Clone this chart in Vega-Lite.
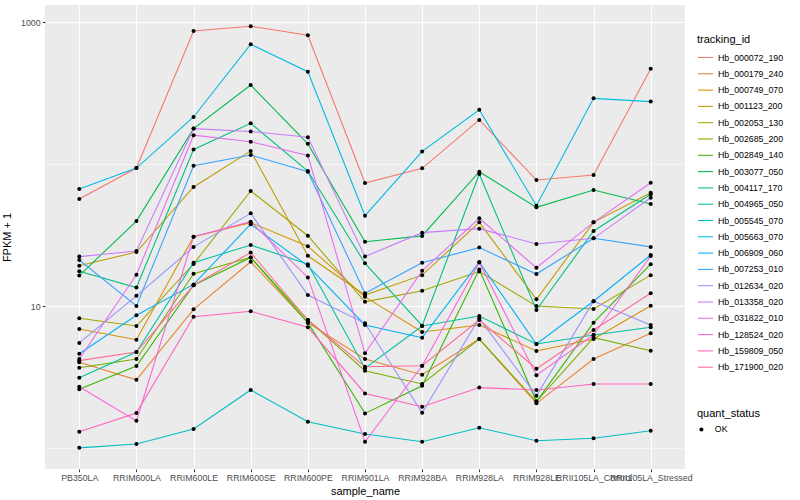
{
  "$schema": "https://vega.github.io/schema/vega-lite/v6.json",
  "width": 640,
  "height": 464,
  "autosize": {"type": "none"},
  "padding": {"left": 45, "top": 5, "right": 115, "bottom": 31},
  "background": "white",
  "config": {
    "font": "Liberation Sans",
    "view": {"fill": "#EBEBEB", "stroke": null},
    "axis": {
      "domain": false,
      "tickColor": "#333333",
      "tickSize": 2.7,
      "tickWidth": 1.07,
      "labelColor": "#4D4D4D",
      "labelFontSize": 8.8,
      "labelFont": "Liberation Sans",
      "titleFont": "Liberation Sans",
      "titleFontSize": 11,
      "titleFontWeight": "normal",
      "titleColor": "black",
      "gridColor": "white",
      "gridWidth": 1.07,
      "labelPadding": 2.2
    },
    "legend": {
      "titleFont": "Liberation Sans",
      "labelFont": "Liberation Sans",
      "titleFontSize": 11,
      "titleFontWeight": "normal",
      "titleColor": "black",
      "labelFontSize": 8.8,
      "labelColor": "black"
    }
  },
  "data": {
    "values": [
      {"tracking_id":"Hb_000072_190","sample_name":"PB350LA","fpkm":56.8,"quant_status":"OK"},
      {"tracking_id":"Hb_000072_190","sample_name":"RRIM600LA","fpkm":93.9,"quant_status":"OK"},
      {"tracking_id":"Hb_000072_190","sample_name":"RRIM600LE","fpkm":868,"quant_status":"OK"},
      {"tracking_id":"Hb_000072_190","sample_name":"RRIM600SE","fpkm":937,"quant_status":"OK"},
      {"tracking_id":"Hb_000072_190","sample_name":"RRIM600PE","fpkm":810,"quant_status":"OK"},
      {"tracking_id":"Hb_000072_190","sample_name":"RRIM901LA","fpkm":73.6,"quant_status":"OK"},
      {"tracking_id":"Hb_000072_190","sample_name":"RRIM928BA","fpkm":93.5,"quant_status":"OK"},
      {"tracking_id":"Hb_000072_190","sample_name":"RRIM928LA","fpkm":205,"quant_status":"OK"},
      {"tracking_id":"Hb_000072_190","sample_name":"RRIM928LE","fpkm":77.3,"quant_status":"OK"},
      {"tracking_id":"Hb_000072_190","sample_name":"RRII105LA_Control","fpkm":83.8,"quant_status":"OK"},
      {"tracking_id":"Hb_000072_190","sample_name":"RRII105LA_Stressed","fpkm":471,"quant_status":"OK"},
      {"tracking_id":"Hb_000179_240","sample_name":"PB350LA","fpkm":4.01,"quant_status":"OK"},
      {"tracking_id":"Hb_000179_240","sample_name":"RRIM600LA","fpkm":3.02,"quant_status":"OK"},
      {"tracking_id":"Hb_000179_240","sample_name":"RRIM600LE","fpkm":9.48,"quant_status":"OK"},
      {"tracking_id":"Hb_000179_240","sample_name":"RRIM600SE","fpkm":20.5,"quant_status":"OK"},
      {"tracking_id":"Hb_000179_240","sample_name":"RRIM600PE","fpkm":7.63,"quant_status":"OK"},
      {"tracking_id":"Hb_000179_240","sample_name":"RRIM901LA","fpkm":4.23,"quant_status":"OK"},
      {"tracking_id":"Hb_000179_240","sample_name":"RRIM928BA","fpkm":3.28,"quant_status":"OK"},
      {"tracking_id":"Hb_000179_240","sample_name":"RRIM928LA","fpkm":5.85,"quant_status":"OK"},
      {"tracking_id":"Hb_000179_240","sample_name":"RRIM928LE","fpkm":2.06,"quant_status":"OK"},
      {"tracking_id":"Hb_000179_240","sample_name":"RRII105LA_Control","fpkm":4.23,"quant_status":"OK"},
      {"tracking_id":"Hb_000179_240","sample_name":"RRII105LA_Stressed","fpkm":6.42,"quant_status":"OK"},
      {"tracking_id":"Hb_000749_070","sample_name":"PB350LA","fpkm":6.88,"quant_status":"OK"},
      {"tracking_id":"Hb_000749_070","sample_name":"RRIM600LA","fpkm":5.79,"quant_status":"OK"},
      {"tracking_id":"Hb_000749_070","sample_name":"RRIM600LE","fpkm":30.8,"quant_status":"OK"},
      {"tracking_id":"Hb_000749_070","sample_name":"RRIM600SE","fpkm":38.7,"quant_status":"OK"},
      {"tracking_id":"Hb_000749_070","sample_name":"RRIM600PE","fpkm":26.4,"quant_status":"OK"},
      {"tracking_id":"Hb_000749_070","sample_name":"RRIM901LA","fpkm":11.6,"quant_status":"OK"},
      {"tracking_id":"Hb_000749_070","sample_name":"RRIM928BA","fpkm":6.56,"quant_status":"OK"},
      {"tracking_id":"Hb_000749_070","sample_name":"RRIM928LA","fpkm":7.35,"quant_status":"OK"},
      {"tracking_id":"Hb_000749_070","sample_name":"RRIM928LE","fpkm":4.82,"quant_status":"OK"},
      {"tracking_id":"Hb_000749_070","sample_name":"RRII105LA_Control","fpkm":5.85,"quant_status":"OK"},
      {"tracking_id":"Hb_000749_070","sample_name":"RRII105LA_Stressed","fpkm":10.05,"quant_status":"OK"},
      {"tracking_id":"Hb_001123_200","sample_name":"PB350LA","fpkm":19.2,"quant_status":"OK"},
      {"tracking_id":"Hb_001123_200","sample_name":"RRIM600LA","fpkm":24.0,"quant_status":"OK"},
      {"tracking_id":"Hb_001123_200","sample_name":"RRIM600LE","fpkm":69.0,"quant_status":"OK"},
      {"tracking_id":"Hb_001123_200","sample_name":"RRIM600SE","fpkm":124,"quant_status":"OK"},
      {"tracking_id":"Hb_001123_200","sample_name":"RRIM600PE","fpkm":22.6,"quant_status":"OK"},
      {"tracking_id":"Hb_001123_200","sample_name":"RRIM901LA","fpkm":11.95,"quant_status":"OK"},
      {"tracking_id":"Hb_001123_200","sample_name":"RRIM928BA","fpkm":16.5,"quant_status":"OK"},
      {"tracking_id":"Hb_001123_200","sample_name":"RRIM928LA","fpkm":38.9,"quant_status":"OK"},
      {"tracking_id":"Hb_001123_200","sample_name":"RRIM928LE","fpkm":11.15,"quant_status":"OK"},
      {"tracking_id":"Hb_001123_200","sample_name":"RRII105LA_Control","fpkm":38.9,"quant_status":"OK"},
      {"tracking_id":"Hb_001123_200","sample_name":"RRII105LA_Stressed","fpkm":62.9,"quant_status":"OK"},
      {"tracking_id":"Hb_002053_130","sample_name":"PB350LA","fpkm":8.19,"quant_status":"OK"},
      {"tracking_id":"Hb_002053_130","sample_name":"RRIM600LA","fpkm":7.23,"quant_status":"OK"},
      {"tracking_id":"Hb_002053_130","sample_name":"RRIM600LE","fpkm":19.8,"quant_status":"OK"},
      {"tracking_id":"Hb_002053_130","sample_name":"RRIM600SE","fpkm":64.7,"quant_status":"OK"},
      {"tracking_id":"Hb_002053_130","sample_name":"RRIM600PE","fpkm":31.3,"quant_status":"OK"},
      {"tracking_id":"Hb_002053_130","sample_name":"RRIM901LA","fpkm":10.7,"quant_status":"OK"},
      {"tracking_id":"Hb_002053_130","sample_name":"RRIM928BA","fpkm":12.8,"quant_status":"OK"},
      {"tracking_id":"Hb_002053_130","sample_name":"RRIM928LA","fpkm":17.5,"quant_status":"OK"},
      {"tracking_id":"Hb_002053_130","sample_name":"RRIM928LE","fpkm":10.0,"quant_status":"OK"},
      {"tracking_id":"Hb_002053_130","sample_name":"RRII105LA_Control","fpkm":9.53,"quant_status":"OK"},
      {"tracking_id":"Hb_002053_130","sample_name":"RRII105LA_Stressed","fpkm":16.5,"quant_status":"OK"},
      {"tracking_id":"Hb_002685_200","sample_name":"PB350LA","fpkm":3.67,"quant_status":"OK"},
      {"tracking_id":"Hb_002685_200","sample_name":"RRIM600LA","fpkm":4.23,"quant_status":"OK"},
      {"tracking_id":"Hb_002685_200","sample_name":"RRIM600LE","fpkm":16.9,"quant_status":"OK"},
      {"tracking_id":"Hb_002685_200","sample_name":"RRIM600SE","fpkm":22.0,"quant_status":"OK"},
      {"tracking_id":"Hb_002685_200","sample_name":"RRIM600PE","fpkm":7.97,"quant_status":"OK"},
      {"tracking_id":"Hb_002685_200","sample_name":"RRIM901LA","fpkm":3.50,"quant_status":"OK"},
      {"tracking_id":"Hb_002685_200","sample_name":"RRIM928BA","fpkm":2.82,"quant_status":"OK"},
      {"tracking_id":"Hb_002685_200","sample_name":"RRIM928LA","fpkm":5.85,"quant_status":"OK"},
      {"tracking_id":"Hb_002685_200","sample_name":"RRIM928LE","fpkm":2.12,"quant_status":"OK"},
      {"tracking_id":"Hb_002685_200","sample_name":"RRII105LA_Control","fpkm":5.98,"quant_status":"OK"},
      {"tracking_id":"Hb_002685_200","sample_name":"RRII105LA_Stressed","fpkm":4.84,"quant_status":"OK"},
      {"tracking_id":"Hb_002849_140","sample_name":"PB350LA","fpkm":2.59,"quant_status":"OK"},
      {"tracking_id":"Hb_002849_140","sample_name":"RRIM600LA","fpkm":3.78,"quant_status":"OK"},
      {"tracking_id":"Hb_002849_140","sample_name":"RRIM600LE","fpkm":14.0,"quant_status":"OK"},
      {"tracking_id":"Hb_002849_140","sample_name":"RRIM600SE","fpkm":22.0,"quant_status":"OK"},
      {"tracking_id":"Hb_002849_140","sample_name":"RRIM600PE","fpkm":7.63,"quant_status":"OK"},
      {"tracking_id":"Hb_002849_140","sample_name":"RRIM901LA","fpkm":1.75,"quant_status":"OK"},
      {"tracking_id":"Hb_002849_140","sample_name":"RRIM928BA","fpkm":2.74,"quant_status":"OK"},
      {"tracking_id":"Hb_002849_140","sample_name":"RRIM928LA","fpkm":18.1,"quant_status":"OK"},
      {"tracking_id":"Hb_002849_140","sample_name":"RRIM928LE","fpkm":2.12,"quant_status":"OK"},
      {"tracking_id":"Hb_002849_140","sample_name":"RRII105LA_Control","fpkm":7.63,"quant_status":"OK"},
      {"tracking_id":"Hb_002849_140","sample_name":"RRII105LA_Stressed","fpkm":19.7,"quant_status":"OK"},
      {"tracking_id":"Hb_003077_050","sample_name":"PB350LA","fpkm":16.4,"quant_status":"OK"},
      {"tracking_id":"Hb_003077_050","sample_name":"RRIM600LA","fpkm":39.7,"quant_status":"OK"},
      {"tracking_id":"Hb_003077_050","sample_name":"RRIM600LE","fpkm":178,"quant_status":"OK"},
      {"tracking_id":"Hb_003077_050","sample_name":"RRIM600SE","fpkm":361,"quant_status":"OK"},
      {"tracking_id":"Hb_003077_050","sample_name":"RRIM600PE","fpkm":139,"quant_status":"OK"},
      {"tracking_id":"Hb_003077_050","sample_name":"RRIM901LA","fpkm":28.4,"quant_status":"OK"},
      {"tracking_id":"Hb_003077_050","sample_name":"RRIM928BA","fpkm":31.2,"quant_status":"OK"},
      {"tracking_id":"Hb_003077_050","sample_name":"RRIM928LA","fpkm":88.5,"quant_status":"OK"},
      {"tracking_id":"Hb_003077_050","sample_name":"RRIM928LE","fpkm":49.6,"quant_status":"OK"},
      {"tracking_id":"Hb_003077_050","sample_name":"RRII105LA_Control","fpkm":65.7,"quant_status":"OK"},
      {"tracking_id":"Hb_003077_050","sample_name":"RRII105LA_Stressed","fpkm":52.4,"quant_status":"OK"},
      {"tracking_id":"Hb_004117_170","sample_name":"PB350LA","fpkm":17.6,"quant_status":"OK"},
      {"tracking_id":"Hb_004117_170","sample_name":"RRIM600LA","fpkm":13.5,"quant_status":"OK"},
      {"tracking_id":"Hb_004117_170","sample_name":"RRIM600LE","fpkm":127,"quant_status":"OK"},
      {"tracking_id":"Hb_004117_170","sample_name":"RRIM600SE","fpkm":194,"quant_status":"OK"},
      {"tracking_id":"Hb_004117_170","sample_name":"RRIM600PE","fpkm":89.4,"quant_status":"OK"},
      {"tracking_id":"Hb_004117_170","sample_name":"RRIM901LA","fpkm":20.0,"quant_status":"OK"},
      {"tracking_id":"Hb_004117_170","sample_name":"RRIM928BA","fpkm":7.26,"quant_status":"OK"},
      {"tracking_id":"Hb_004117_170","sample_name":"RRIM928LA","fpkm":85.2,"quant_status":"OK"},
      {"tracking_id":"Hb_004117_170","sample_name":"RRIM928LE","fpkm":9.37,"quant_status":"OK"},
      {"tracking_id":"Hb_004117_170","sample_name":"RRII105LA_Control","fpkm":33.8,"quant_status":"OK"},
      {"tracking_id":"Hb_004117_170","sample_name":"RRII105LA_Stressed","fpkm":61.3,"quant_status":"OK"},
      {"tracking_id":"Hb_004965_050","sample_name":"PB350LA","fpkm":3.12,"quant_status":"OK"},
      {"tracking_id":"Hb_004965_050","sample_name":"RRIM600LA","fpkm":4.74,"quant_status":"OK"},
      {"tracking_id":"Hb_004965_050","sample_name":"RRIM600LE","fpkm":20.2,"quant_status":"OK"},
      {"tracking_id":"Hb_004965_050","sample_name":"RRIM600SE","fpkm":26.9,"quant_status":"OK"},
      {"tracking_id":"Hb_004965_050","sample_name":"RRIM600PE","fpkm":19.7,"quant_status":"OK"},
      {"tracking_id":"Hb_004965_050","sample_name":"RRIM901LA","fpkm":3.64,"quant_status":"OK"},
      {"tracking_id":"Hb_004965_050","sample_name":"RRIM928BA","fpkm":7.23,"quant_status":"OK"},
      {"tracking_id":"Hb_004965_050","sample_name":"RRIM928LA","fpkm":8.50,"quant_status":"OK"},
      {"tracking_id":"Hb_004965_050","sample_name":"RRIM928LE","fpkm":5.40,"quant_status":"OK"},
      {"tracking_id":"Hb_004965_050","sample_name":"RRII105LA_Control","fpkm":6.25,"quant_status":"OK"},
      {"tracking_id":"Hb_004965_050","sample_name":"RRII105LA_Stressed","fpkm":7.08,"quant_status":"OK"},
      {"tracking_id":"Hb_005545_070","sample_name":"PB350LA","fpkm":1.00,"quant_status":"OK"},
      {"tracking_id":"Hb_005545_070","sample_name":"RRIM600LA","fpkm":1.065,"quant_status":"OK"},
      {"tracking_id":"Hb_005545_070","sample_name":"RRIM600LE","fpkm":1.358,"quant_status":"OK"},
      {"tracking_id":"Hb_005545_070","sample_name":"RRIM600SE","fpkm":2.56,"quant_status":"OK"},
      {"tracking_id":"Hb_005545_070","sample_name":"RRIM600PE","fpkm":1.529,"quant_status":"OK"},
      {"tracking_id":"Hb_005545_070","sample_name":"RRIM901LA","fpkm":1.252,"quant_status":"OK"},
      {"tracking_id":"Hb_005545_070","sample_name":"RRIM928BA","fpkm":1.105,"quant_status":"OK"},
      {"tracking_id":"Hb_005545_070","sample_name":"RRIM928LA","fpkm":1.387,"quant_status":"OK"},
      {"tracking_id":"Hb_005545_070","sample_name":"RRIM928LE","fpkm":1.123,"quant_status":"OK"},
      {"tracking_id":"Hb_005545_070","sample_name":"RRII105LA_Control","fpkm":1.168,"quant_status":"OK"},
      {"tracking_id":"Hb_005545_070","sample_name":"RRII105LA_Stressed","fpkm":1.321,"quant_status":"OK"},
      {"tracking_id":"Hb_005663_070","sample_name":"PB350LA","fpkm":66.8,"quant_status":"OK"},
      {"tracking_id":"Hb_005663_070","sample_name":"RRIM600LA","fpkm":93.9,"quant_status":"OK"},
      {"tracking_id":"Hb_005663_070","sample_name":"RRIM600LE","fpkm":215,"quant_status":"OK"},
      {"tracking_id":"Hb_005663_070","sample_name":"RRIM600SE","fpkm":700,"quant_status":"OK"},
      {"tracking_id":"Hb_005663_070","sample_name":"RRIM600PE","fpkm":448,"quant_status":"OK"},
      {"tracking_id":"Hb_005663_070","sample_name":"RRIM901LA","fpkm":43.3,"quant_status":"OK"},
      {"tracking_id":"Hb_005663_070","sample_name":"RRIM928BA","fpkm":123,"quant_status":"OK"},
      {"tracking_id":"Hb_005663_070","sample_name":"RRIM928LA","fpkm":242,"quant_status":"OK"},
      {"tracking_id":"Hb_005663_070","sample_name":"RRIM928LE","fpkm":50.9,"quant_status":"OK"},
      {"tracking_id":"Hb_005663_070","sample_name":"RRII105LA_Control","fpkm":291,"quant_status":"OK"},
      {"tracking_id":"Hb_005663_070","sample_name":"RRII105LA_Stressed","fpkm":276,"quant_status":"OK"},
      {"tracking_id":"Hb_006909_060","sample_name":"PB350LA","fpkm":4.61,"quant_status":"OK"},
      {"tracking_id":"Hb_006909_060","sample_name":"RRIM600LA","fpkm":8.60,"quant_status":"OK"},
      {"tracking_id":"Hb_006909_060","sample_name":"RRIM600LE","fpkm":14.2,"quant_status":"OK"},
      {"tracking_id":"Hb_006909_060","sample_name":"RRIM600SE","fpkm":37.7,"quant_status":"OK"},
      {"tracking_id":"Hb_006909_060","sample_name":"RRIM600PE","fpkm":19.2,"quant_status":"OK"},
      {"tracking_id":"Hb_006909_060","sample_name":"RRIM901LA","fpkm":7.35,"quant_status":"OK"},
      {"tracking_id":"Hb_006909_060","sample_name":"RRIM928BA","fpkm":5.98,"quant_status":"OK"},
      {"tracking_id":"Hb_006909_060","sample_name":"RRIM928LA","fpkm":20.4,"quant_status":"OK"},
      {"tracking_id":"Hb_006909_060","sample_name":"RRIM928LE","fpkm":5.40,"quant_status":"OK"},
      {"tracking_id":"Hb_006909_060","sample_name":"RRII105LA_Control","fpkm":10.8,"quant_status":"OK"},
      {"tracking_id":"Hb_006909_060","sample_name":"RRII105LA_Stressed","fpkm":22.9,"quant_status":"OK"},
      {"tracking_id":"Hb_007253_010","sample_name":"PB350LA","fpkm":21.1,"quant_status":"OK"},
      {"tracking_id":"Hb_007253_010","sample_name":"RRIM600LA","fpkm":10.0,"quant_status":"OK"},
      {"tracking_id":"Hb_007253_010","sample_name":"RRIM600LE","fpkm":97.5,"quant_status":"OK"},
      {"tracking_id":"Hb_007253_010","sample_name":"RRIM600SE","fpkm":116,"quant_status":"OK"},
      {"tracking_id":"Hb_007253_010","sample_name":"RRIM600PE","fpkm":88.5,"quant_status":"OK"},
      {"tracking_id":"Hb_007253_010","sample_name":"RRIM901LA","fpkm":12.3,"quant_status":"OK"},
      {"tracking_id":"Hb_007253_010","sample_name":"RRIM928BA","fpkm":20.2,"quant_status":"OK"},
      {"tracking_id":"Hb_007253_010","sample_name":"RRIM928LA","fpkm":25.8,"quant_status":"OK"},
      {"tracking_id":"Hb_007253_010","sample_name":"RRIM928LE","fpkm":16.8,"quant_status":"OK"},
      {"tracking_id":"Hb_007253_010","sample_name":"RRII105LA_Control","fpkm":30.0,"quant_status":"OK"},
      {"tracking_id":"Hb_007253_010","sample_name":"RRII105LA_Stressed","fpkm":26.1,"quant_status":"OK"},
      {"tracking_id":"Hb_012634_020","sample_name":"PB350LA","fpkm":5.49,"quant_status":"OK"},
      {"tracking_id":"Hb_012634_020","sample_name":"RRIM600LA","fpkm":11.8,"quant_status":"OK"},
      {"tracking_id":"Hb_012634_020","sample_name":"RRIM600LE","fpkm":26.1,"quant_status":"OK"},
      {"tracking_id":"Hb_012634_020","sample_name":"RRIM600SE","fpkm":45.0,"quant_status":"OK"},
      {"tracking_id":"Hb_012634_020","sample_name":"RRIM600PE","fpkm":11.95,"quant_status":"OK"},
      {"tracking_id":"Hb_012634_020","sample_name":"RRIM901LA","fpkm":7.55,"quant_status":"OK"},
      {"tracking_id":"Hb_012634_020","sample_name":"RRIM928BA","fpkm":1.77,"quant_status":"OK"},
      {"tracking_id":"Hb_012634_020","sample_name":"RRIM928LA","fpkm":8.19,"quant_status":"OK"},
      {"tracking_id":"Hb_012634_020","sample_name":"RRIM928LE","fpkm":2.33,"quant_status":"OK"},
      {"tracking_id":"Hb_012634_020","sample_name":"RRII105LA_Control","fpkm":10.8,"quant_status":"OK"},
      {"tracking_id":"Hb_012634_020","sample_name":"RRII105LA_Stressed","fpkm":7.35,"quant_status":"OK"},
      {"tracking_id":"Hb_013358_020","sample_name":"PB350LA","fpkm":22.3,"quant_status":"OK"},
      {"tracking_id":"Hb_013358_020","sample_name":"RRIM600LA","fpkm":24.4,"quant_status":"OK"},
      {"tracking_id":"Hb_013358_020","sample_name":"RRIM600LE","fpkm":178,"quant_status":"OK"},
      {"tracking_id":"Hb_013358_020","sample_name":"RRIM600SE","fpkm":170,"quant_status":"OK"},
      {"tracking_id":"Hb_013358_020","sample_name":"RRIM600PE","fpkm":155,"quant_status":"OK"},
      {"tracking_id":"Hb_013358_020","sample_name":"RRIM901LA","fpkm":22.3,"quant_status":"OK"},
      {"tracking_id":"Hb_013358_020","sample_name":"RRIM928BA","fpkm":32.9,"quant_status":"OK"},
      {"tracking_id":"Hb_013358_020","sample_name":"RRIM928LA","fpkm":35.1,"quant_status":"OK"},
      {"tracking_id":"Hb_013358_020","sample_name":"RRIM928LE","fpkm":27.4,"quant_status":"OK"},
      {"tracking_id":"Hb_013358_020","sample_name":"RRII105LA_Control","fpkm":30.0,"quant_status":"OK"},
      {"tracking_id":"Hb_013358_020","sample_name":"RRII105LA_Stressed","fpkm":58.0,"quant_status":"OK"},
      {"tracking_id":"Hb_031822_010","sample_name":"PB350LA","fpkm":4.23,"quant_status":"OK"},
      {"tracking_id":"Hb_031822_010","sample_name":"RRIM600LA","fpkm":16.6,"quant_status":"OK"},
      {"tracking_id":"Hb_031822_010","sample_name":"RRIM600LE","fpkm":160,"quant_status":"OK"},
      {"tracking_id":"Hb_031822_010","sample_name":"RRIM600SE","fpkm":144,"quant_status":"OK"},
      {"tracking_id":"Hb_031822_010","sample_name":"RRIM600PE","fpkm":115,"quant_status":"OK"},
      {"tracking_id":"Hb_031822_010","sample_name":"RRIM901LA","fpkm":4.64,"quant_status":"OK"},
      {"tracking_id":"Hb_031822_010","sample_name":"RRIM928BA","fpkm":17.7,"quant_status":"OK"},
      {"tracking_id":"Hb_031822_010","sample_name":"RRIM928LA","fpkm":41.5,"quant_status":"OK"},
      {"tracking_id":"Hb_031822_010","sample_name":"RRIM928LE","fpkm":18.6,"quant_status":"OK"},
      {"tracking_id":"Hb_031822_010","sample_name":"RRII105LA_Control","fpkm":38.9,"quant_status":"OK"},
      {"tracking_id":"Hb_031822_010","sample_name":"RRII105LA_Stressed","fpkm":74.0,"quant_status":"OK"},
      {"tracking_id":"Hb_128524_020","sample_name":"PB350LA","fpkm":2.70,"quant_status":"OK"},
      {"tracking_id":"Hb_128524_020","sample_name":"RRIM600LA","fpkm":1.55,"quant_status":"OK"},
      {"tracking_id":"Hb_128524_020","sample_name":"RRIM600LE","fpkm":30.8,"quant_status":"OK"},
      {"tracking_id":"Hb_128524_020","sample_name":"RRIM600SE","fpkm":39.3,"quant_status":"OK"},
      {"tracking_id":"Hb_128524_020","sample_name":"RRIM600PE","fpkm":15.9,"quant_status":"OK"},
      {"tracking_id":"Hb_128524_020","sample_name":"RRIM901LA","fpkm":1.105,"quant_status":"OK"},
      {"tracking_id":"Hb_128524_020","sample_name":"RRIM928BA","fpkm":3.79,"quant_status":"OK"},
      {"tracking_id":"Hb_128524_020","sample_name":"RRIM928LA","fpkm":20.3,"quant_status":"OK"},
      {"tracking_id":"Hb_128524_020","sample_name":"RRIM928LE","fpkm":3.25,"quant_status":"OK"},
      {"tracking_id":"Hb_128524_020","sample_name":"RRII105LA_Control","fpkm":6.25,"quant_status":"OK"},
      {"tracking_id":"Hb_128524_020","sample_name":"RRII105LA_Stressed","fpkm":22.5,"quant_status":"OK"},
      {"tracking_id":"Hb_159809_050","sample_name":"PB350LA","fpkm":1.30,"quant_status":"OK"},
      {"tracking_id":"Hb_159809_050","sample_name":"RRIM600LA","fpkm":1.76,"quant_status":"OK"},
      {"tracking_id":"Hb_159809_050","sample_name":"RRIM600LE","fpkm":8.41,"quant_status":"OK"},
      {"tracking_id":"Hb_159809_050","sample_name":"RRIM600SE","fpkm":9.18,"quant_status":"OK"},
      {"tracking_id":"Hb_159809_050","sample_name":"RRIM600PE","fpkm":7.08,"quant_status":"OK"},
      {"tracking_id":"Hb_159809_050","sample_name":"RRIM901LA","fpkm":2.42,"quant_status":"OK"},
      {"tracking_id":"Hb_159809_050","sample_name":"RRIM928BA","fpkm":1.95,"quant_status":"OK"},
      {"tracking_id":"Hb_159809_050","sample_name":"RRIM928LA","fpkm":2.66,"quant_status":"OK"},
      {"tracking_id":"Hb_159809_050","sample_name":"RRIM928LE","fpkm":2.56,"quant_status":"OK"},
      {"tracking_id":"Hb_159809_050","sample_name":"RRII105LA_Control","fpkm":2.82,"quant_status":"OK"},
      {"tracking_id":"Hb_159809_050","sample_name":"RRII105LA_Stressed","fpkm":2.82,"quant_status":"OK"},
      {"tracking_id":"Hb_171900_020","sample_name":"PB350LA","fpkm":4.12,"quant_status":"OK"},
      {"tracking_id":"Hb_171900_020","sample_name":"RRIM600LA","fpkm":4.74,"quant_status":"OK"},
      {"tracking_id":"Hb_171900_020","sample_name":"RRIM600LE","fpkm":14.0,"quant_status":"OK"},
      {"tracking_id":"Hb_171900_020","sample_name":"RRIM600SE","fpkm":23.8,"quant_status":"OK"},
      {"tracking_id":"Hb_171900_020","sample_name":"RRIM600PE","fpkm":7.97,"quant_status":"OK"},
      {"tracking_id":"Hb_171900_020","sample_name":"RRIM901LA","fpkm":3.73,"quant_status":"OK"},
      {"tracking_id":"Hb_171900_020","sample_name":"RRIM928BA","fpkm":3.79,"quant_status":"OK"},
      {"tracking_id":"Hb_171900_020","sample_name":"RRIM928LA","fpkm":7.97,"quant_status":"OK"},
      {"tracking_id":"Hb_171900_020","sample_name":"RRIM928LE","fpkm":3.61,"quant_status":"OK"},
      {"tracking_id":"Hb_171900_020","sample_name":"RRII105LA_Control","fpkm":6.77,"quant_status":"OK"},
      {"tracking_id":"Hb_171900_020","sample_name":"RRII105LA_Stressed","fpkm":12.3,"quant_status":"OK"}
    ]
  },
  "encoding": {
    "x": {
      "field": "sample_name",
      "type": "nominal",
      "sort": ["PB350LA","RRIM600LA","RRIM600LE","RRIM600SE","RRIM600PE","RRIM901LA","RRIM928BA","RRIM928LA","RRIM928LE","RRII105LA_Control","RRII105LA_Stressed"],
      "scale": {"type": "point", "padding": 0.6},
      "axis": {"title": "sample_name", "labelAngle": 0, "labelOverlap": false, "grid": true, "titlePadding": 3}
    },
    "y": {
      "field": "fpkm",
      "type": "quantitative",
      "scale": {"type": "log", "domain": [0.7096, 1324], "nice": false, "zero": false},
      "axis": {
        "title": "FPKM + 1",
        "values": [1, 10, 100, 1000],
        "labelExpr": "(datum.value == 10 || datum.value == 1000) ? format(datum.value, 'd') : ''",
        "gridWidth": {"condition": {"test": "datum.value == 10 || datum.value == 1000", "value": 1.07}, "value": 0.53},
        "tickOpacity": {"condition": {"test": "datum.value == 10 || datum.value == 1000", "value": 1}, "value": 0},
        "titlePadding": 8
      }
    }
  },
  "layer": [
    {
      "mark": {"type": "line", "strokeWidth": 1.07},
      "encoding": {
        "color": {
          "field": "tracking_id",
          "type": "nominal",
          "scale": {"range": ["#F8766D","#EA8331","#D89000","#C09B00","#A3A500","#7CAE00","#39B600","#00BB4E","#00BF7D","#00C1A3","#00BFC4","#00BAE0","#00B0F6","#35A2FF","#9590FF","#C77CFF","#E76BF3","#FA62DB","#FF62BC","#FF6C91"]},
          "legend": {
            "title": "tracking_id",
            "orient": "none",
            "legendX": 652,
            "legendY": 29,
            "symbolType": "stroke",
            "symbolSize": 225,
            "symbolStrokeWidth": 1.07,
            "rowPadding": 2.3,
            "titlePadding": 4,
            "labelOffset": 4
          }
        }
      }
    },
    {
      "mark": {"type": "point", "filled": true, "color": "black", "size": 16, "opacity": 1},
      "encoding": {
        "shape": {
          "field": "quant_status",
          "type": "nominal",
          "scale": {"range": ["circle"]},
          "legend": {
            "title": "quant_status",
            "orient": "none",
            "legendX": 652,
            "legendY": 403,
            "symbolSize": 16,
            "symbolFillColor": "black",
            "symbolStrokeColor": "black",
            "titlePadding": 6,
            "labelOffset": 9
          }
        }
      }
    }
  ]
}
